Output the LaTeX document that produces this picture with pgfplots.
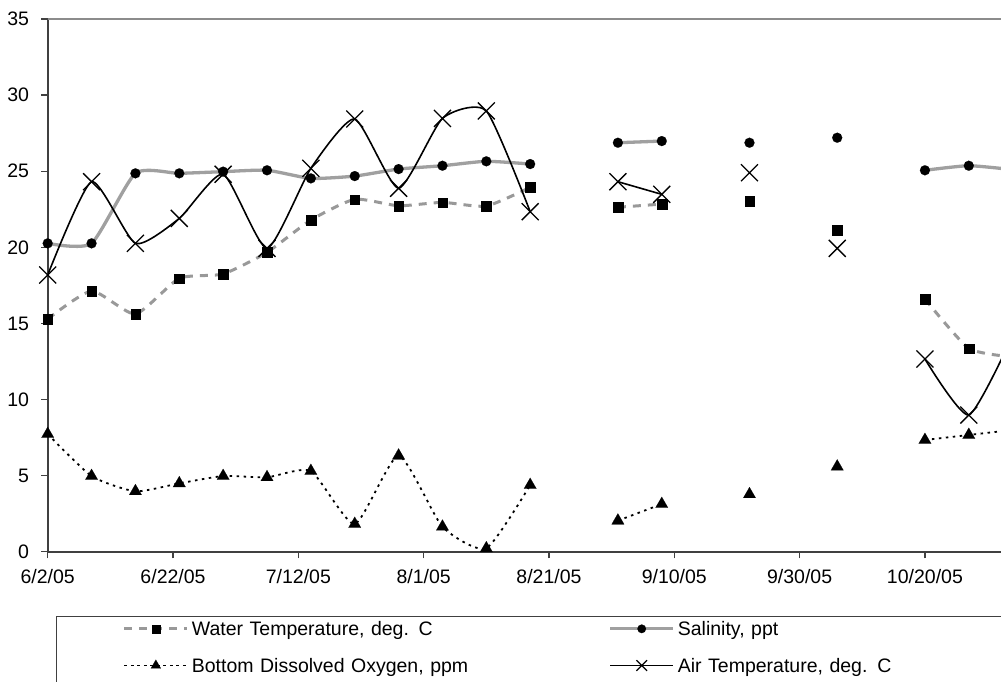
\documentclass[border=0pt]{standalone}
\usepackage{fontspec}
\setmainfont{Liberation Sans}
\usepackage{pgfplots}
\usepackage{pgfplotstable}
\pgfplotsset{compat=1.18}
\definecolor{lgray}{HTML}{999999}
\definecolor{sgray}{HTML}{A0A0A0}
\definecolor{axgray}{HTML}{404040}
\definecolor{topgray}{HTML}{8C8C8C}

% day 0 = 6/2/05
\pgfplotstableread{
day val
0 15.29
7 17.13
14 15.62
21 17.96
28 18.25
35 19.67
42 21.79
49 23.15
56 22.73
63 22.95
70 22.71
77 23.94
}\wtA
\pgfplotstableread{
day val
91 22.63
98 22.84
}\wtB
\pgfplotstableread{
day val
112 23.02
126 21.14
}\wtC
\pgfplotstableread{
day val
140 16.60
147 13.36
154 12.80
}\wtD

\pgfplotstableread{
day val
0 20.26
7 20.26
14 24.86
21 24.86
28 24.97
35 25.06
42 24.53
49 24.68
56 25.14
63 25.36
70 25.65
77 25.47
}\salA
\pgfplotstableread{
day val
91 26.87
98 26.98
}\salB
\pgfplotstableread{
day val
112 26.87
126 27.20
}\salC
\pgfplotstableread{
day val
140 25.06
147 25.36
154 25.10
}\salD

\pgfplotstableread{
day val
0 7.73
7 4.97
14 3.97
21 4.49
28 4.97
35 4.89
42 5.30
49 1.82
56 6.31
63 1.64
70 0.22
77 4.38
}\doA
\pgfplotstableread{
day val
91 2.04
98 3.13
}\doB
\pgfplotstableread{
day val
112 3.77
126 5.59
}\doC
\pgfplotstableread{
day val
140 7.34
147 7.67
154 8.00
}\doD

\pgfplotstableread{
day val
0 18.18
7 24.31
14 20.26
21 21.90
28 24.80
35 19.93
42 25.19
49 28.43
56 23.88
63 28.47
70 28.96
77 22.34
}\airA
\pgfplotstableread{
day val
91 24.31
98 23.48
}\airB
\pgfplotstableread{
day val
112 24.90
126 19.93
}\airC
\pgfplotstableread{
day val
140 12.66
147 8.98
154 14.20
}\airD

\pgfplotsset{
  wt/.style={draw=lgray, line width=3pt, dash pattern=on 8pt off 7pt, mark=square*, mark size=4.8pt,
    mark options={solid, draw=black, fill=black, line width=0.1pt}},
  sal/.style={draw=sgray, line width=3.3pt, solid, mark=*, mark size=5pt,
    mark options={solid, draw=black, fill=black, line width=0.1pt}},
  dox/.style={draw=black, line width=1.8pt, dash pattern=on 2.5pt off 4.5pt, mark=triangle*, mark size=7.2pt,
    mark options={solid, draw=black, fill=black, line width=0.1pt}},
  air/.style={draw=black, line width=1.6pt, solid, mark=x, mark size=12pt,
    mark options={solid, draw=black, line width=1.3pt}},
  sm/.style={smooth, tension=0.35},
}

\begin{document}
\begin{tikzpicture}
\useasboundingbox (0,0) rectangle (1001pt,681pt);
\clip (0,0) rectangle (1001pt,681pt);
\begin{axis}[
  name=ax,
  at={(47.7pt,129.3pt)}, anchor=south west,
  scale only axis, width=953.3pt, height=532.7pt,
  xmin=0, xmax=152.14, ymin=0, ymax=35,
  axis x line=bottom, axis y line=left,
  axis line style={-, draw=axgray, line width=1.6pt},
  xtick={0,20,...,140},
  xticklabels={6/2/05,6/22/05,7/12/05,8/1/05,8/21/05,9/10/05,9/30/05,10/20/05},
  ytick={0,5,...,35},
  minor tick num=0,
  tick align=outside, major tick length=6.6pt,
  tick style={draw=axgray, line width=1.4pt},
  ticklabel style={font=\fontsize{19.5}{23}\selectfont},
  xticklabel style={yshift=-8pt},
  yticklabel style={xshift=-8.5pt},
  /pgf/number format/assume math mode=true,
  legend columns=2,
  legend image code/.code={\draw[mark repeat=2,mark phase=2,#1] plot coordinates {(0pt,6.9pt) (31.5pt,6.9pt) (63pt,6.9pt)};},
  legend style={
    at={(0.0084,-0.1201)}, anchor=north west,
    draw=axgray, line width=1.3pt, fill=white,
    inner xsep=66.5pt, inner ysep=5.5pt,
    font=\fontsize{19.5}{23}\selectfont,
    cells={anchor=base west},
    nodes={inner sep=0pt, text height=13.9pt, text depth=10pt, text width=400pt},
    row sep=12.8pt,
    /tikz/every odd column/.append style={column sep=3pt},
    /tikz/every even column/.append style={column sep=16.7pt},
    /tikz/column 3/.append style={column sep=-2pt},
  },
]
\addplot[wt, sm, forget plot] table[x=day,y=val] {\wtA};
\addplot[wt, forget plot] table[x=day,y=val] {\wtB};
\addplot[wt, only marks, forget plot] table[x=day,y=val] {\wtC};
\addplot[wt, sm, forget plot] table[x=day,y=val] {\wtD};

\addplot[sal, sm, forget plot] table[x=day,y=val] {\salA};
\addplot[sal, forget plot] table[x=day,y=val] {\salB};
\addplot[sal, only marks, forget plot] table[x=day,y=val] {\salC};
\addplot[sal, sm, forget plot] table[x=day,y=val] {\salD};

\addplot[dox, sm, forget plot] table[x=day,y=val] {\doA};
\addplot[dox, forget plot] table[x=day,y=val] {\doB};
\addplot[dox, only marks, forget plot] table[x=day,y=val] {\doC};
\addplot[dox, sm, forget plot] table[x=day,y=val] {\doD};

\addplot[air, sm, forget plot] table[x=day,y=val] {\airA};
\addplot[air, forget plot] table[x=day,y=val] {\airB};
\addplot[air, only marks, forget plot] table[x=day,y=val] {\airC};
\addplot[air, sm, forget plot] table[x=day,y=val] {\airD};

\addlegendimage{wt, mark size=4pt}
\addlegendentry{Water Temperature, deg. C}
\addlegendimage{sal, mark size=4.3pt}
\addlegendentry{Salinity, ppt}
\addlegendimage{dox, mark size=5.8pt, dash pattern=on 3pt off 3.5pt}
\addlegendentry{Bottom Dissolved Oxygen, ppm}
\addlegendimage{air, mark size=7.5pt}
\addlegendentry{Air Temperature, deg. C}
\end{axis}
\draw[topgray, line width=1.5pt] (ax.north west) -- (ax.north east);
\end{tikzpicture}
\end{document}
